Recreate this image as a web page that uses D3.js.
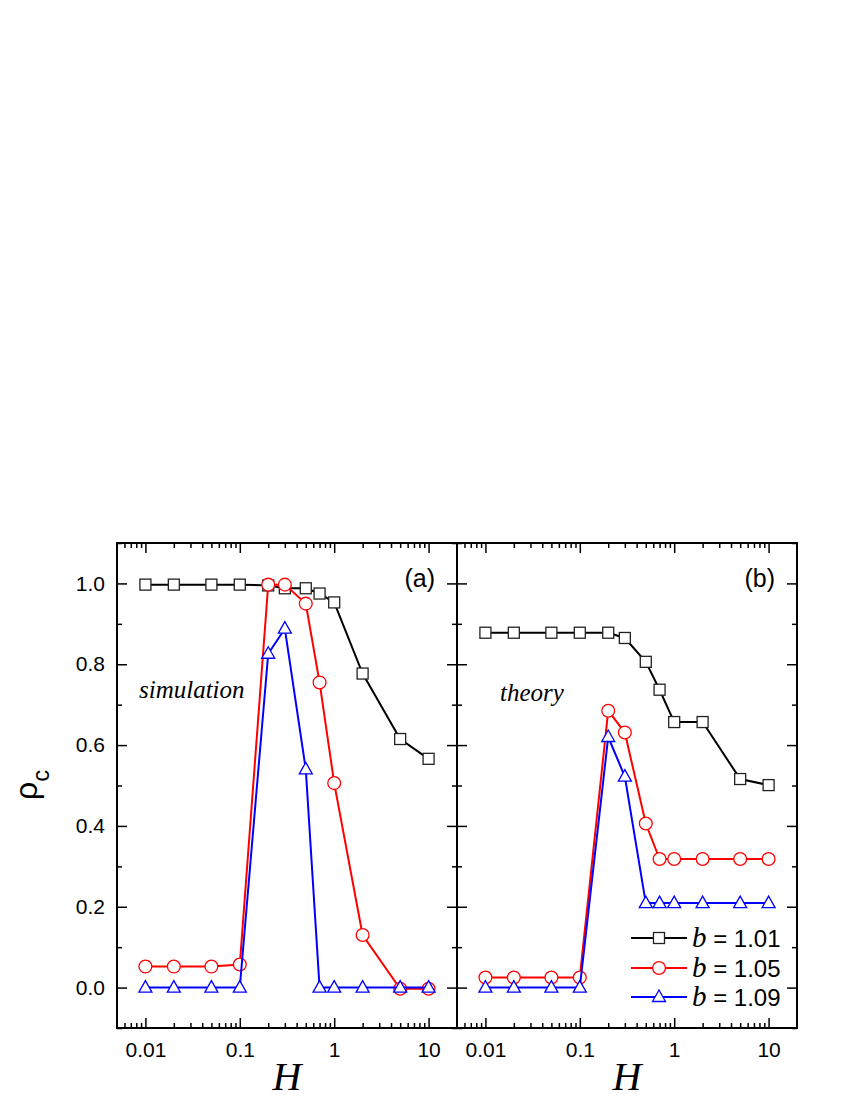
<!DOCTYPE html>
<html>
<head>
<meta charset="utf-8">
<script src="https://cdn.jsdelivr.net/npm/d3@7"></script>
<style>
  body { margin: 0; background: #fff; }
  .tick text { font-family: "Liberation Sans", Arial, sans-serif; font-size: 21px; fill: #000; }
  .tick line { stroke: #000; stroke-width: 1.5; }
</style>
</head>
<body>
<script>
"use strict";

// H values (x axis, log)
const hValues = [0.01, 0.02, 0.05, 0.1, 0.2, 0.3, 0.5, 0.7, 1, 2, 5, 10]

// panel (a) simulation
const simB101 = [0.997, 0.997, 0.997, 0.997, 0.995, 0.988, 0.988, 0.975, 0.953, 0.777, 0.615, 0.566]
const simB105 = [0.052, 0.052, 0.052, 0.057, 0.997, 0.997, 0.950, 0.755, 0.506, 0.130, -0.003, -0.003]
const simB109 = [0, 0, 0, 0, 0.826, 0.888, 0.540, 0, 0, 0, 0, 0]

// panel (b) theory
const thB101 = [0.878, 0.878, 0.878, 0.878, 0.878, 0.865, 0.806, 0.737, 0.657, 0.657, 0.516, 0.501]
const thB105 = [0.025, 0.025, 0.025, 0.025, 0.685, 0.631, 0.406, 0.318, 0.318, 0.318, 0.318, 0.318]
const thB109 = [0, 0, 0, 0, 0.620, 0.522, 0.209, 0.209, 0.209, 0.209, 0.209, 0.209]

const seriesNames = ["1.01", "1.05", "1.09"]
const seriesColors = ["#000000", "#ff0000", "#0000ff"]
const seriesSymbols = ["square", "circle", "triangle"]

const xMajorTicks = [0.01, 0.1, 1, 10]
const xTickLabels = ["0.01", "0.1", "1", "10"]
const yMajorTicks = [0, 0.2, 0.4, 0.6, 0.8, 1.0]
const yMinorTicks = [-0.1, 0.1, 0.3, 0.5, 0.7, 0.9, 1.1]

const measurements = {
    width: 850,
    height: 1100,
    top: 543,
    bottom: 1028,
    panelWidth: 340,
    panelLefts: [117, 457]
}

const svg = d3.select("body").append("svg")
    .attr("width", measurements.width)
    .attr("height", measurements.height)

const y = d3.scaleLinear()
    .domain([-0.1, 1.1])
    .range([measurements.bottom, measurements.top])

// minor ticks 2..9 per decade, only inside the domain
function minorTicks(domain) {
    let out = []
    for (let e = -3; e <= 2; e++) {
        for (let m = 2; m <= 9; m++) {
            const v = m * Math.pow(10, e)
            if (v > domain[0] * 1.0001 && v < domain[1] * 0.9999) out.push(v)
        }
    }
    return out
}

function drawSymbol(g, kind, cx, cy, color) {
    if (kind === "square") {
        g.append("rect").attr("x", cx - 5.5).attr("y", cy - 5.5)
            .attr("width", 11).attr("height", 11)
            .attr("fill", "#fff").attr("stroke", "#222").attr("stroke-width", 1.3)
    } else if (kind === "circle") {
        g.append("circle").attr("cx", cx).attr("cy", cy).attr("r", 6.4)
            .attr("fill", "#fff").attr("stroke", color).attr("stroke-width", 1.3)
    } else {
        g.append("path")
            .attr("d", `M${cx},${cy - 7} L${cx + 6.5},${cy + 4.5} L${cx - 6.5},${cy + 4.5} Z`)
            .attr("fill", "#fff").attr("stroke", color).attr("stroke-width", 1.3)
    }
}

function drawPanel(index, series, tag, label, labelPos) {
    const left = measurements.panelLefts[index]
    const xDomain = [0.005, 20]
    const x = d3.scaleLog()
        .domain(xDomain)
        .range([left, left + measurements.panelWidth])
    const minors = minorTicks(xDomain)

    const g = svg.append("g")

    // bottom axis
    g.append("g").attr("transform", `translate(0,${measurements.bottom})`)
        .call(d3.axisBottom(x).tickValues(xMajorTicks).tickSizeInner(-10).tickSizeOuter(0)
            .tickPadding(14).tickFormat((d, i) => xTickLabels[i]))
    g.append("g").attr("transform", `translate(0,${measurements.bottom})`)
        .call(d3.axisBottom(x).tickValues(minors).tickSizeInner(-5).tickSizeOuter(0).tickFormat(""))
    // top axis
    g.append("g").attr("transform", `translate(0,${measurements.top})`)
        .call(d3.axisTop(x).tickValues(xMajorTicks).tickSizeInner(-10).tickSizeOuter(0).tickFormat(""))
    g.append("g").attr("transform", `translate(0,${measurements.top})`)
        .call(d3.axisTop(x).tickValues(minors).tickSizeInner(-5).tickSizeOuter(0).tickFormat(""))
    // left axis
    const leftAxis = d3.axisLeft(y).tickValues(yMajorTicks).tickSizeInner(-10).tickSizeOuter(0)
        .tickPadding(12).tickFormat(index === 0 ? d3.format(".1f") : "")
    g.append("g").attr("transform", `translate(${left},0)`).call(leftAxis)
    g.append("g").attr("transform", `translate(${left},0)`)
        .call(d3.axisLeft(y).tickValues(yMinorTicks).tickSizeInner(-5).tickSizeOuter(0).tickFormat(""))
    // right axis
    g.append("g").attr("transform", `translate(${left + measurements.panelWidth},0)`)
        .call(d3.axisRight(y).tickValues(yMajorTicks).tickSizeInner(-10).tickSizeOuter(0).tickFormat(""))
    g.append("g").attr("transform", `translate(${left + measurements.panelWidth},0)`)
        .call(d3.axisRight(y).tickValues(yMinorTicks).tickSizeInner(-5).tickSizeOuter(0).tickFormat(""))

    g.selectAll(".domain").remove()

    // frame
    g.append("rect")
        .attr("x", left).attr("y", measurements.top)
        .attr("width", measurements.panelWidth)
        .attr("height", measurements.bottom - measurements.top)
        .attr("fill", "none").attr("stroke", "#000").attr("stroke-width", 2)

    const line = d3.line()
        .x((d, i) => x(hValues[i]))
        .y(d => y(d))

    series.forEach((values, s) => {
        const sg = g.append("g")
        sg.append("path")
            .attr("d", line(values))
            .attr("fill", "none")
            .attr("stroke", seriesColors[s])
            .attr("stroke-width", 2)
        values.forEach((v, i) => drawSymbol(sg, seriesSymbols[s], x(hValues[i]), y(v), seriesColors[s]))
    })

    // panel tag
    g.append("text")
        .attr("x", left + measurements.panelWidth - 22).attr("y", 587)
        .attr("text-anchor", "end")
        .style("font-family", "Liberation Sans, Arial, sans-serif")
        .style("font-size", "25px")
        .text(tag)

    g.append("text")
        .attr("x", labelPos[0]).attr("y", labelPos[1])
        .style("font-family", "Liberation Serif, Times New Roman, serif")
        .style("font-style", "italic")
        .style("font-size", "25px")
        .text(label)

    // x title
    g.append("text")
        .attr("x", left + measurements.panelWidth / 2).attr("y", 1090)
        .attr("text-anchor", "middle")
        .style("font-family", "Liberation Serif, Times New Roman, serif")
        .style("font-style", "italic")
        .style("font-size", "40px")
        .text("H")
}

drawPanel(0, [simB101, simB105, simB109], "(a)", "simulation", [139, 698])
drawPanel(1, [thB101, thB105, thB109], "(b)", "theory", [500, 701])

// y title
const yTitle = svg.append("text")
    .attr("transform", "translate(37,800) rotate(-90)")
    .style("font-family", "Liberation Sans, Arial, sans-serif")
    .style("font-size", "32px")
yTitle.append("tspan").text("ρ")
yTitle.append("tspan").attr("dy", 12).style("font-size", "24px").text("c")

// legend
const legend = svg.append("g")
const legendRows = [938, 968, 997]
seriesNames.forEach((name, i) => {
    const ly = legendRows[i]
    legend.append("line")
        .attr("x1", 631).attr("x2", 687).attr("y1", ly).attr("y2", ly)
        .attr("stroke", seriesColors[i]).attr("stroke-width", 2)
    drawSymbol(legend, seriesSymbols[i], 659, ly, seriesColors[i])
    const t = legend.append("text")
        .attr("x", 692).attr("y", ly + 9)
        .style("font-family", "Liberation Sans, Arial, sans-serif")
        .style("font-size", "24px")
    t.append("tspan")
        .style("font-family", "Liberation Serif, Times New Roman, serif")
        .style("font-style", "italic")
        .style("font-size", "29px")
        .text("b")
    t.append("tspan").text(" = " + name)
})
</script>
</body>
</html>
